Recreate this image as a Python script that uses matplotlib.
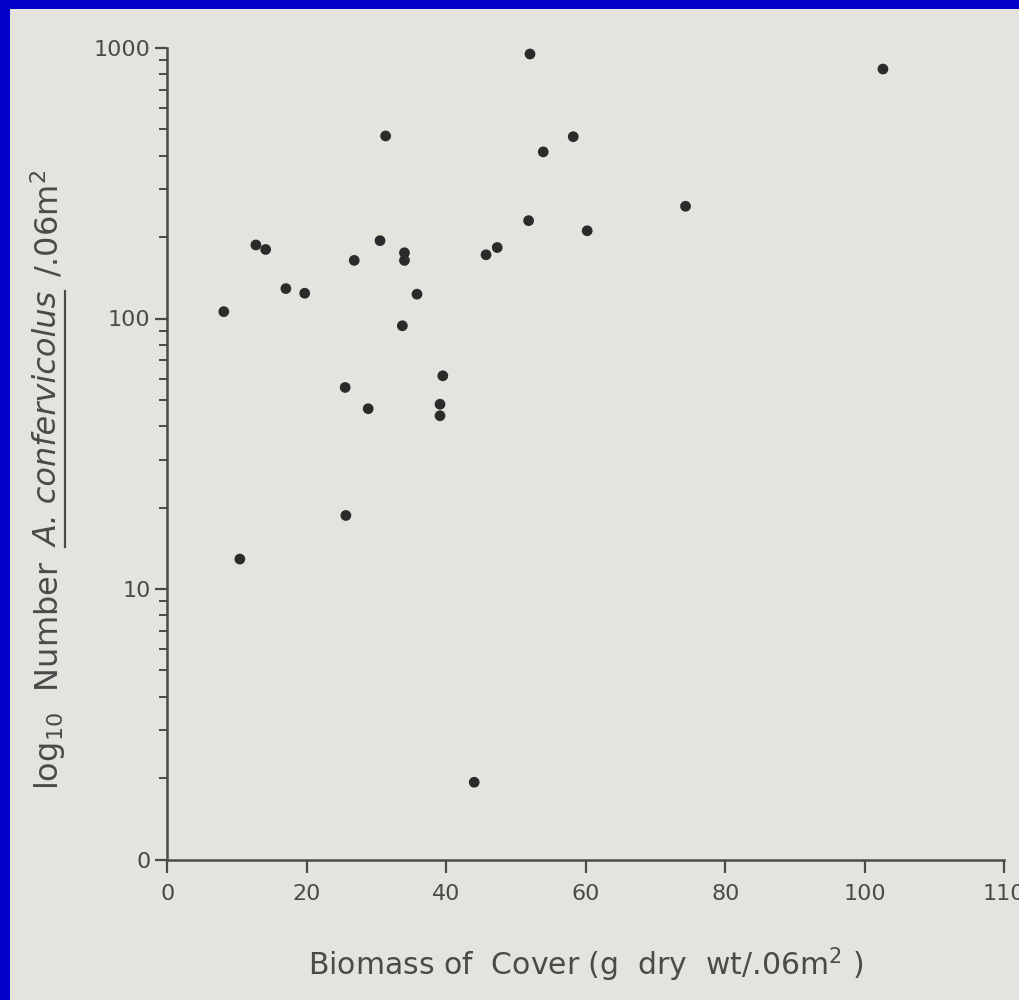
import numpy as np
import matplotlib
matplotlib.use('Agg')
import matplotlib.pyplot as plt
from matplotlib.patches import Rectangle
from matplotlib.lines import Line2D
from matplotlib.ticker import FixedLocator, LogLocator, NullFormatter

# Biomass of cover (g dry wt / .06 m2) and number of A. confervicolus per .06 m2
biomass = [8.1, 10.4, 12.7, 14.1, 17.0, 19.7, 25.5, 25.6, 26.8, 28.8,
           30.5, 31.3, 34.0, 34.0, 33.7, 35.8, 39.5, 39.1, 39.1, 44.0,
           45.7, 47.3, 51.8, 52.0, 53.9, 58.2, 60.2, 74.3, 102.6]
count = [106, 12.9, 187, 180, 129, 124, 55.6, 18.7, 164, 46.4,
         194, 473, 175, 164, 94, 123, 61.4, 48.2, 43.7, 1.93,
         172, 183, 230, 950, 413, 470, 211, 260, 836]

x_ticks = [0, 20, 40, 60, 80, 100, 120]
x_tick_labels = ['0', '20', '40', '60', '80', '100', '110']
y_ticks = [1, 10, 100, 1000]
y_tick_labels = ['0', '10', '100', '1000']

W, H = 1019, 1000
ink = '#4a4a4a'
paper = '#e5e3dd'

fig = plt.figure(figsize=(W / 100, H / 100), dpi=100)
fig.patch.set_facecolor('#0000c8')
# photographed sheet of paper inside the blue frame
fig.add_artist(Rectangle((10 / W, 0), 1, 1 - 9 / H, transform=fig.transFigure,
                         facecolor=paper, edgecolor='none', zorder=0))

ax = fig.add_axes([167.3 / W, 1 - 859.5 / H, 837 / W, 811.5 / H])
ax.set_facecolor('none')
ax.scatter(biomass, count, s=60, color='#2b2b2b', edgecolors='none',
           zorder=3, clip_on=False)

ax.set_yscale('log')
ax.set_ylim(1, 1000)
ax.set_xlim(0, 120)

for side in ['top', 'right']:
    ax.spines[side].set_visible(False)
for side in ['left', 'bottom']:
    ax.spines[side].set_color(ink)
    ax.spines[side].set_linewidth(1.8)

ax.xaxis.set_major_locator(FixedLocator(x_ticks))
ax.set_xticklabels(x_tick_labels)
ax.yaxis.set_major_locator(FixedLocator(y_ticks))
ax.set_yticklabels(y_tick_labels)
ax.yaxis.set_minor_locator(LogLocator(base=10, subs=np.arange(2, 10)))
ax.yaxis.set_minor_formatter(NullFormatter())

ax.tick_params(axis='both', which='major', direction='out', length=9,
               width=1.6, color=ink, labelcolor=ink, labelsize=16)
ax.tick_params(axis='x', which='major', pad=9)
ax.tick_params(axis='y', which='major', pad=3)
ax.tick_params(axis='y', which='minor', direction='out', length=6,
               width=1.4, color=ink)

ax.set_xlabel('Biomass of  Cover (g  dry  wt/.06m$^2$ )', fontsize=21.5,
              color=ink)
ax.xaxis.set_label_coords(0.5, -0.106)

# y label built from pieces so the species name can be italic and underlined
renderer = fig.canvas.get_renderer()
parts = [(r'$\mathregular{log_{10}}$  Number', 'normal'),
         ('A. confervicolus', 'italic'),
         ('/.06m$^2$', 'normal')]
base_x = 58
y_px = 210
for text, style in parts:
    t = fig.text(base_x / W, y_px / H, text, rotation=90,
                 rotation_mode='anchor', ha='left', va='baseline',
                 fontsize=23, color=ink, style=style)
    bb = t.get_window_extent(renderer)
    if style == 'italic':
        fig.add_artist(Line2D([(base_x + 7) / W] * 2,
                              [bb.y0 / H, bb.y1 / H],
                              transform=fig.transFigure, color=ink, lw=1.6))
    y_px = bb.y1 + 14

fig.savefig('out.png', dpi=100, facecolor=fig.get_facecolor())
